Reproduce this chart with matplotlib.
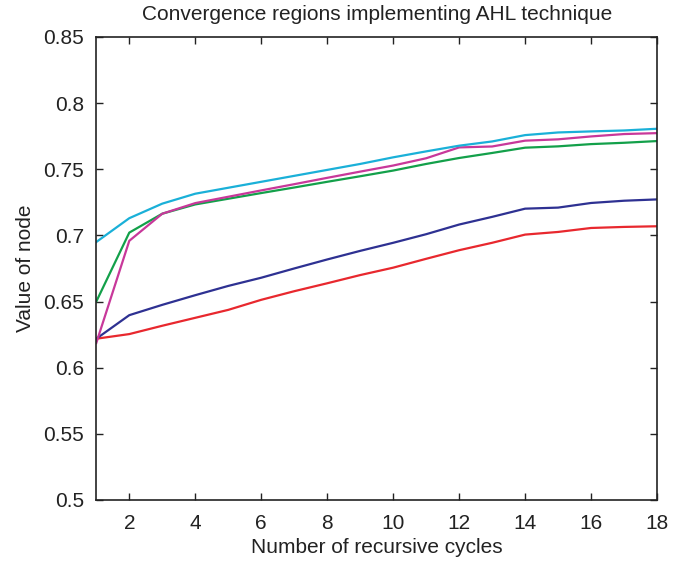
import numpy as np
import matplotlib
matplotlib.use('Agg')
from matplotlib import pyplot as plt

plt.rcParams['font.family'] = ['Liberation Sans', 'DejaVu Sans']

cycles = np.arange(1, 19)

# values
cyan = [0.695, 0.713, 0.724, 0.7315, 0.736, 0.7405, 0.745, 0.7495, 0.754,
        0.759, 0.7635, 0.7678, 0.771, 0.7758, 0.7778, 0.7786, 0.7793, 0.7806]
magenta = [0.6187, 0.6959, 0.7164, 0.7244, 0.7292, 0.734, 0.7387, 0.7435, 0.7482,
           0.7528, 0.7583, 0.7665, 0.7672, 0.7716, 0.7726, 0.7748, 0.7766, 0.7773]
green = [0.650, 0.7021, 0.7164, 0.7234, 0.7277, 0.732, 0.7362, 0.7405, 0.7447,
         0.749, 0.754, 0.7585, 0.7623, 0.7663, 0.7673, 0.769, 0.770, 0.7713]
navy = [0.6219, 0.6397, 0.6475, 0.6548, 0.6618, 0.668, 0.675, 0.6818, 0.6883,
        0.6944, 0.7009, 0.7082, 0.714, 0.7202, 0.721, 0.7245, 0.7262, 0.7272]
red = [0.6219, 0.6254, 0.6317, 0.6377, 0.6437, 0.6513, 0.6578, 0.6638, 0.670,
       0.6756, 0.6823, 0.6888, 0.6944, 0.7006, 0.7026, 0.7056, 0.7064, 0.7069]

fig = plt.figure(figsize=(6.83, 5.64), dpi=100)
ax = fig.add_axes([0.141, 0.1135, 0.821, 0.821])

ax.plot(cycles, red, color='#e8282e', lw=1.6)
ax.plot(cycles, navy, color='#2e3192', lw=1.6)
ax.plot(cycles, green, color='#13a04a', lw=1.6)
ax.plot(cycles, magenta, color='#c8389a', lw=1.6)
ax.plot(cycles, cyan, color='#1ab0d8', lw=1.6)

ax.set_xlim(1, 18)
ax.set_ylim(0.5, 0.85)
ax.set_xticks(np.arange(2, 19, 2))
ax.set_yticks(np.arange(0.5, 0.851, 0.05))
ax.set_yticklabels(['0.5', '0.55', '0.6', '0.65', '0.7', '0.75', '0.8', '0.85'])
ax.tick_params(direction='in', top=True, right=True, labelsize=15, length=5, width=1,
               colors='#222222', labelcolor='#222222')
ax.tick_params(axis='x', pad=10)
ax.tick_params(axis='y', pad=9)
for s in ax.spines.values():
    s.set_linewidth(1.2)
    s.set_color('#222222')

ax.set_title('Convergence regions implementing AHL technique', fontsize=15, pad=12,
             color='#222222')
ax.set_xlabel('Number of recursive cycles', fontsize=15, labelpad=4, color='#222222')
ax.set_ylabel('Value of node', fontsize=15, labelpad=6, color='#222222')

plt.savefig('out.png')
